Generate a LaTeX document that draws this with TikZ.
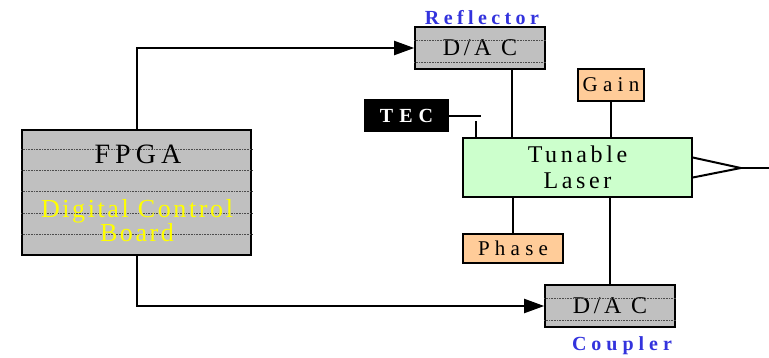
\documentclass[tikz,border=0pt]{standalone}
\usepackage{fontspec}
\setmainfont{Liberation Serif}
\usepackage{tikz}
\usetikzlibrary{arrows.meta, positioning}
\definecolor{kgray}{HTML}{C0C0C0}
\definecolor{kgreen}{HTML}{CCFFCC}
\definecolor{korange}{HTML}{FFCC99}
\definecolor{kblue}{HTML}{3333DD}
\definecolor{kyellow}{HTML}{FFFF00}
\newcommand{\wfont}[2]{\fontsize{#1}{#1}\selectfont\addfontfeature{LetterSpace=#2}}
\tikzset{
  box/.style={draw=black, line width=1.6pt, inner sep=0pt},
  dacbox/.style={box, fill=kgray, minimum width=130, minimum height=42, font=\wfont{24}{15}},
  tapbox/.style={box, fill=korange},
  rule/.style={gray!60!black, densely dotted, line width=0.6pt},
  wire/.style={line width=2pt},
  feed/.style={wire, -{Triangle[length=20,width=14]}},
  tag/.style={text=kblue, anchor=base}
}
\begin{document}
\begin{tikzpicture}[x=1pt, y=-1pt]
\useasboundingbox (0,0) rectangle (769,357);
% control board
\node[box, fill=kgray, minimum width=229, minimum height=125] (fpga) at (136.5,192.5) {};
\foreach \y in {149,170,191,213,234}
  \draw[rule] (fpga.west |- 0,\y) -- (fpga.east |- 0,\y);
\node[font=\wfont{28}{18}, anchor=base] (fpganame) at (138,163) {FPGA};
\node[font=\wfont{26}{10}, text=kyellow, align=center, anchor=base] (fpgaboard) at (137,241) {Digital Control\\[-2pt]Board};
% converters
\node[dacbox] (refl) at (480,48) {D/A C};
\draw[rule] (refl.west |- 0,40) -- (refl.east |- 0,40);
\draw[rule] (refl.west |- 0,62) -- (refl.east |- 0,62);
\node[tag, font=\wfont{20}{22}\bfseries] (refltag) at (482,24) {Reflector};
\node[dacbox] (coup) at (610,306) {D/A C};
\draw[rule] (coup.west |- 0,298) -- (coup.east |- 0,298);
\draw[rule] (coup.west |- 0,320) -- (coup.east |- 0,320);
\node[tag, font=\wfont{20}{25}\bfseries] (couptag) at (622,350) {Coupler};
% laser and sections
\node[box, fill=kgreen, minimum width=229, minimum height=59, align=center,
  font=\wfont{24}{15}] (laser) at (577.5,167.5) {Tunable\\[2pt]Laser};
\node[tapbox, minimum width=66, minimum height=32, font=\wfont{21}{25}] (gain) at (611,85) {Gain};
\node[tapbox, minimum width=100, minimum height=29, font=\wfont{21}{25}] (phase) at (513,248.5) {Phase};
\node[box, fill=black, text=white, minimum width=83, minimum height=31,
  font=\wfont{20}{30}\bfseries] (tec) at (406.5,115.5) {TEC};
% connections
\draw[feed] (fpga.north) |- (refl.west);
\draw[feed] (fpga.south) |- (coup.west);
\draw[wire] ([xshift=32]refl.south) -- ([xshift=32]refl.south |- laser.north);
\draw[wire] (gain.south) -- (gain.south |- laser.north);
\draw[wire] (phase.north) -- (phase.north |- laser.south);
\draw[wire] (coup.north) -- (coup.north |- laser.south);
\draw[wire] (tec.east) -- ++(32,0);
\draw[wire] ([xshift=14]laser.north west) -- ++(0,-16);
% output
\coordinate (fiber) at (769,168);
\draw[wire] ([yshift=10]laser.east) -- ++(48,10.5) coordinate (tip) -- ([yshift=-10]laser.east);
\draw[wire] (tip) -- (fiber);
\end{tikzpicture}
\end{document}
